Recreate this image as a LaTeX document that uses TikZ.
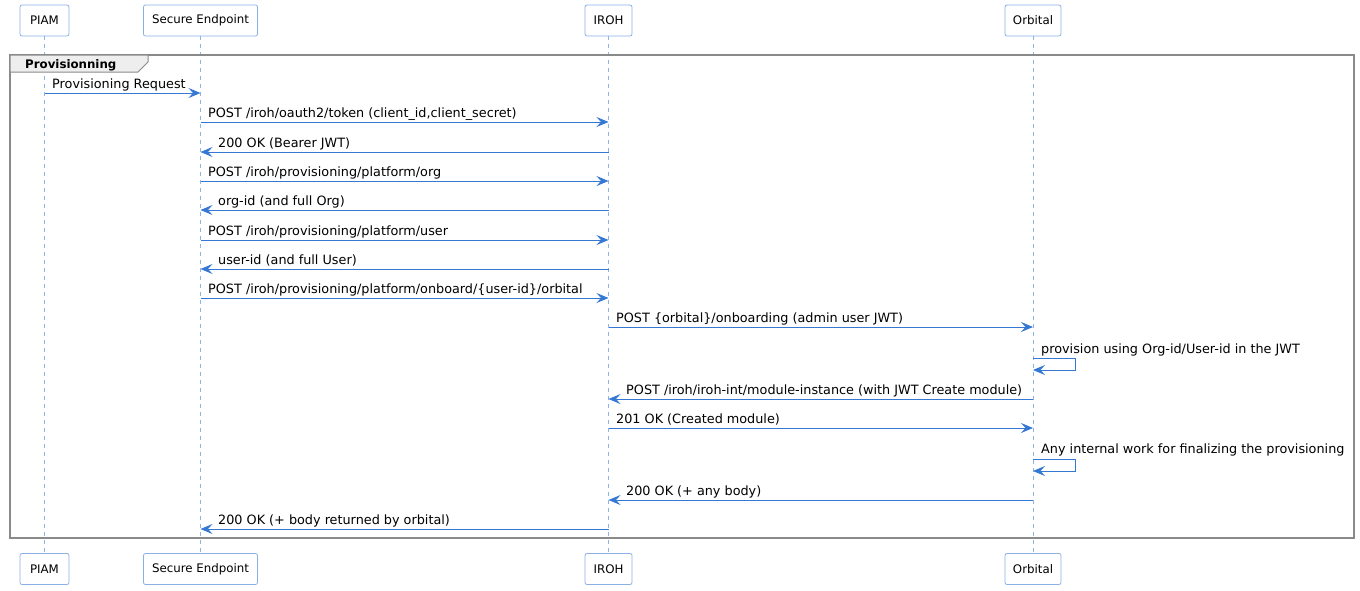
\documentclass[tikz,border=0pt]{standalone}
\usepackage{fontspec}
\setmainfont{DejaVu Sans}
\usetikzlibrary{arrows.meta}
\definecolor{arr}{HTML}{3578D4}
\definecolor{life}{HTML}{8DB3EA}
\definecolor{pbd}{HTML}{8CB0E6}
\definecolor{frm}{HTML}{8A8A8A}
\definecolor{tabfill}{HTML}{EEEEEE}
\begin{document}
\begin{tikzpicture}[x=1pt,y=-1pt,
  part/.style={draw=pbd, rounded corners=2pt, fill=white, minimum height=31pt,
    inner xsep=0pt, font=\fontsize{11.8}{13}\selectfont, line width=0.8pt},
  msg/.style={draw=arr, line width=0.9pt, -{Stealth[length=12pt,width=10pt,inset=4.5pt]}},
  lbl/.style={anchor=base west, inner sep=0pt, font=\fontsize{12.8}{14}\selectfont},
  lifeline/.style={draw=life, dash pattern=on 4pt off 4pt, line width=0.7pt},
  frame/.style={draw=frm, line width=1.5pt},
  tab/.style={fill=tabfill, draw=frm, line width=1pt}]
\useasboundingbox (0,0) rectangle (1360,590);
% participants
\node[part, minimum width=49pt] (piam) at (44.5,20.5) {PIAM};
\node[part, minimum width=114pt] (se) at (200.5,20.5) {Secure Endpoint};
\node[part, minimum width=47pt] (iroh) at (608.5,20.5) {IROH};
\node[part, minimum width=56pt] (orb) at (1033,20.5) {Orbital};
\node[part, minimum width=49pt] (piamB) at (44.5,569) {PIAM};
\node[part, minimum width=114pt] (seB) at (200.5,569) {Secure Endpoint};
\node[part, minimum width=47pt] (irohB) at (608.5,569) {IROH};
\node[part, minimum width=56pt] (orbB) at (1033,569) {Orbital};
% lifelines
\draw[lifeline] (piam.south) -- (piamB.north);
\draw[lifeline] (se.south) -- (seB.north);
\draw[lifeline] (iroh.south) -- (irohB.north);
\draw[lifeline] (orb.south) -- (orbB.north);
% frame
\draw[frame] (10,55) rectangle (1354,538);
\draw[tab] (10,55) -- (148,55) -- (148,62) -- (138,72) -- (10,72) -- cycle;
\node[anchor=base west, inner sep=0pt, font=\bfseries\fontsize{11.8}{13}\selectfont] (ftitle) at (25,68) {Provisionning};
% message endpoints
\coordinate (a1) at (44.5,93);  \coordinate (b1) at (200.5,93);
\coordinate (a2) at (200.5,122); \coordinate (b2) at (608.5,122);
\coordinate (a3) at (608.5,152); \coordinate (b3) at (200.5,152);
\coordinate (a4) at (200.5,181); \coordinate (b4) at (608.5,181);
\coordinate (a5) at (608.5,210); \coordinate (b5) at (200.5,210);
\coordinate (a6) at (200.5,240); \coordinate (b6) at (608.5,240);
\coordinate (a7) at (608.5,269); \coordinate (b7) at (200.5,269);
\coordinate (a8) at (200.5,298); \coordinate (b8) at (608.5,298);
\coordinate (a9) at (608.5,327); \coordinate (b9) at (1033,327);
\coordinate (a10) at (1033,358); \coordinate (b10) at (1033,370);
\coordinate (a11) at (1033,399); \coordinate (b11) at (608.5,399);
\coordinate (a12) at (608.5,428); \coordinate (b12) at (1033,428);
\coordinate (a13) at (1033,459); \coordinate (b13) at (1033,471);
\coordinate (a14) at (1033,500); \coordinate (b14) at (608.5,500);
\coordinate (a15) at (608.5,529); \coordinate (b15) at (200.5,529);
% messages
\draw[msg] (a1) -- (b1);
\node[lbl] (t1) at (52,88) {Provisioning Request};
\draw[msg] (a2) -- (b2);
\node[lbl] (t2) at (208,117) {POST /iroh/oauth2/token (client\_id,client\_secret)};
\draw[msg] (a3) -- (b3);
\node[lbl] (t3) at (218,147) {200 OK (Bearer JWT)};
\draw[msg] (a4) -- (b4);
\node[lbl] (t4) at (208,176) {POST /iroh/provisioning/platform/org};
\draw[msg] (a5) -- (b5);
\node[lbl] (t5) at (218,205) {org-id (and full Org)};
\draw[msg] (a6) -- (b6);
\node[lbl] (t6) at (208,235) {POST /iroh/provisioning/platform/user};
\draw[msg] (a7) -- (b7);
\node[lbl] (t7) at (218,264) {user-id (and full User)};
\draw[msg] (a8) -- (b8);
\node[lbl] (t8) at (208,293) {POST /iroh/provisioning/platform/onboard/\{user-id\}/orbital};
\draw[msg] (a9) -- (b9);
\node[lbl] (t9) at (616,322) {POST \{orbital\}/onboarding (admin user JWT)};
\draw[msg] (a10) -- ++(42,0) |- (b10);
\node[lbl] (t10) at (1041,353) {provision using Org-id/User-id in the JWT};
\draw[msg] (a11) -- (b11);
\node[lbl] (t11) at (626,394) {POST /iroh/iroh-int/module-instance (with JWT Create module)};
\draw[msg] (a12) -- (b12);
\node[lbl] (t12) at (616,423) {201 OK (Created module)};
\draw[msg] (a13) -- ++(42,0) |- (b13);
\node[lbl] (t13) at (1041,453) {Any internal work for finalizing the provisioning};
\draw[msg] (a14) -- (b14);
\node[lbl] (t14) at (626,495) {200 OK (+ any body)};
\draw[msg] (a15) -- (b15);
\node[lbl] (t15) at (218,524) {200 OK (+ body returned by orbital)};
\end{tikzpicture}
\end{document}
